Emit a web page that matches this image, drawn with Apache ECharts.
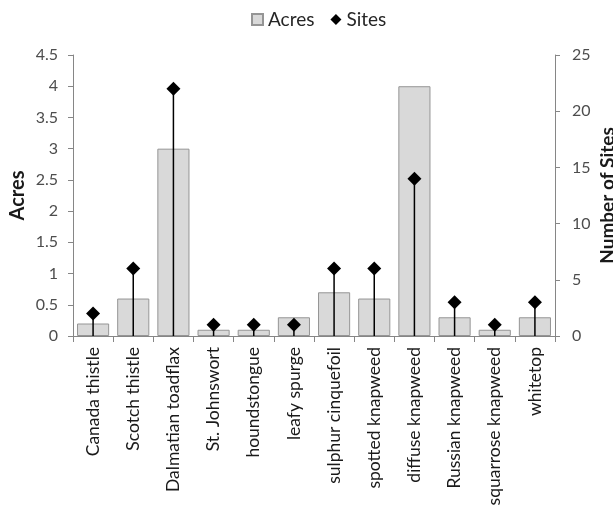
<!DOCTYPE html>
<html>
<head>
<meta charset="utf-8">
<script src="https://cdn.jsdelivr.net/npm/echarts@6/dist/echarts.min.js"></script>
<style>
  html, body { margin: 0; padding: 0; background: #fff; overflow: hidden; }
  #chart { width: 613px; height: 514px; }
</style>
</head>
<body>
<div id="chart"></div>
<script>
// Noxious weed infestations: treated acreage and number of sites per species
const species = [
  'Canada thistle', 'Scotch thistle', 'Dalmatian toadflax', 'St. Johnswort',
  'houndstongue', 'leafy spurge', 'sulphur cinquefoil', 'spotted knapweed',
  'diffuse knapweed', 'Russian knapweed', 'squarrose knapweed', 'whitetop'
];
const acres = [0.2, 0.6, 3, 0.1, 0.1, 0.3, 0.7, 0.6, 4, 0.3, 0.1, 0.3];
const sites = [2, 6, 22, 1, 1, 1, 6, 6, 14, 3, 1, 3];

const fontFamily = 'Lato, "Open Sans", sans-serif';
const axisGrey = '#868686';
const labelGrey = '#4d4d4d';

const chart = echarts.init(document.getElementById('chart'), null, { renderer: 'canvas' });

chart.setOption({
  animation: false,
  textStyle: { fontFamily },
  legend: {
    top: 5,
    left: 246,
    itemGap: 16,
    itemWidth: 11,
    itemHeight: 11,
    textStyle: { fontSize: 19, color: '#262626', fontFamily },
    data: [
      { name: 'Acres', icon: 'rect' },
      { name: 'Sites', icon: 'diamond' }
    ]
  },
  grid: {
    left: 73, right: 58, top: 55, bottom: 178,
    outerBoundsMode: 'none',
    containLabel: false
  },
  xAxis: {
    type: 'category',
    data: species,
    axisLine: { lineStyle: { color: axisGrey, width: 1 } },
    axisTick: { show: true, length: 6, lineStyle: { color: axisGrey } },
    axisLabel: {
      interval: 0,
      rotate: 90,
      margin: 11,
      fontSize: 17.5,
      color: '#1a1a1a',
      fontFamily
    }
  },
  yAxis: [
    {
      type: 'value',
      name: 'Acres',
      nameLocation: 'middle',
      nameRotate: 90,
      nameGap: 45,
      nameMoveOverlap: false,
      nameTextStyle: { fontSize: 20, fontWeight: 'bold', color: '#1a1a1a', fontFamily },
      min: 0,
      max: 4.5,
      interval: 0.5,
      splitLine: { show: false },
      axisLine: { show: true, lineStyle: { color: axisGrey } },
      axisTick: { show: true, length: 5, lineStyle: { color: axisGrey } },
      axisLabel: { fontSize: 16, color: labelGrey, margin: 15, fontFamily }
    },
    {
      type: 'value',
      name: 'Number of Sites',
      nameLocation: 'middle',
      nameRotate: 90,
      nameGap: 43,
      nameMoveOverlap: false,
      nameTextStyle: { fontSize: 19, fontWeight: 'bold', color: '#1a1a1a', fontFamily },
      min: 0,
      max: 25,
      interval: 5,
      position: 'right',
      splitLine: { show: false },
      axisLine: { show: true, lineStyle: { color: axisGrey } },
      axisTick: { show: true, length: 5, lineStyle: { color: axisGrey } },
      axisLabel: { fontSize: 16, color: labelGrey, margin: 17, fontFamily }
    }
  ],
  series: [
    {
      name: 'Acres',
      type: 'bar',
      yAxisIndex: 0,
      data: acres,
      barCategoryGap: '20%',
      itemStyle: { color: '#d9d9d9', borderColor: '#959595', borderWidth: 1 },
      z: 2
    },
    {
      // vertical drop line from each site marker down to zero
      name: 'Sites',
      type: 'custom',
      yAxisIndex: 1,
      data: sites.map((v, i) => [i, v]),
      encode: { x: 0, y: 1 },
      itemStyle: { color: '#000' },
      renderItem: function (params, api) {
        const top = api.coord([api.value(0), api.value(1)]);
        const base = api.coord([api.value(0), 0]);
        return {
          type: 'line',
          shape: { x1: top[0], y1: top[1], x2: base[0], y2: base[1] },
          style: { stroke: '#000', lineWidth: 1.5 }
        };
      },
      z: 3,
      legendHoverLink: false
    },
    {
      name: 'Sites',
      type: 'scatter',
      yAxisIndex: 1,
      data: sites,
      symbol: 'diamond',
      symbolSize: 14,
      itemStyle: { color: '#000', opacity: 1 },
      z: 4
    }
  ]
});
</script>
</body>
</html>
